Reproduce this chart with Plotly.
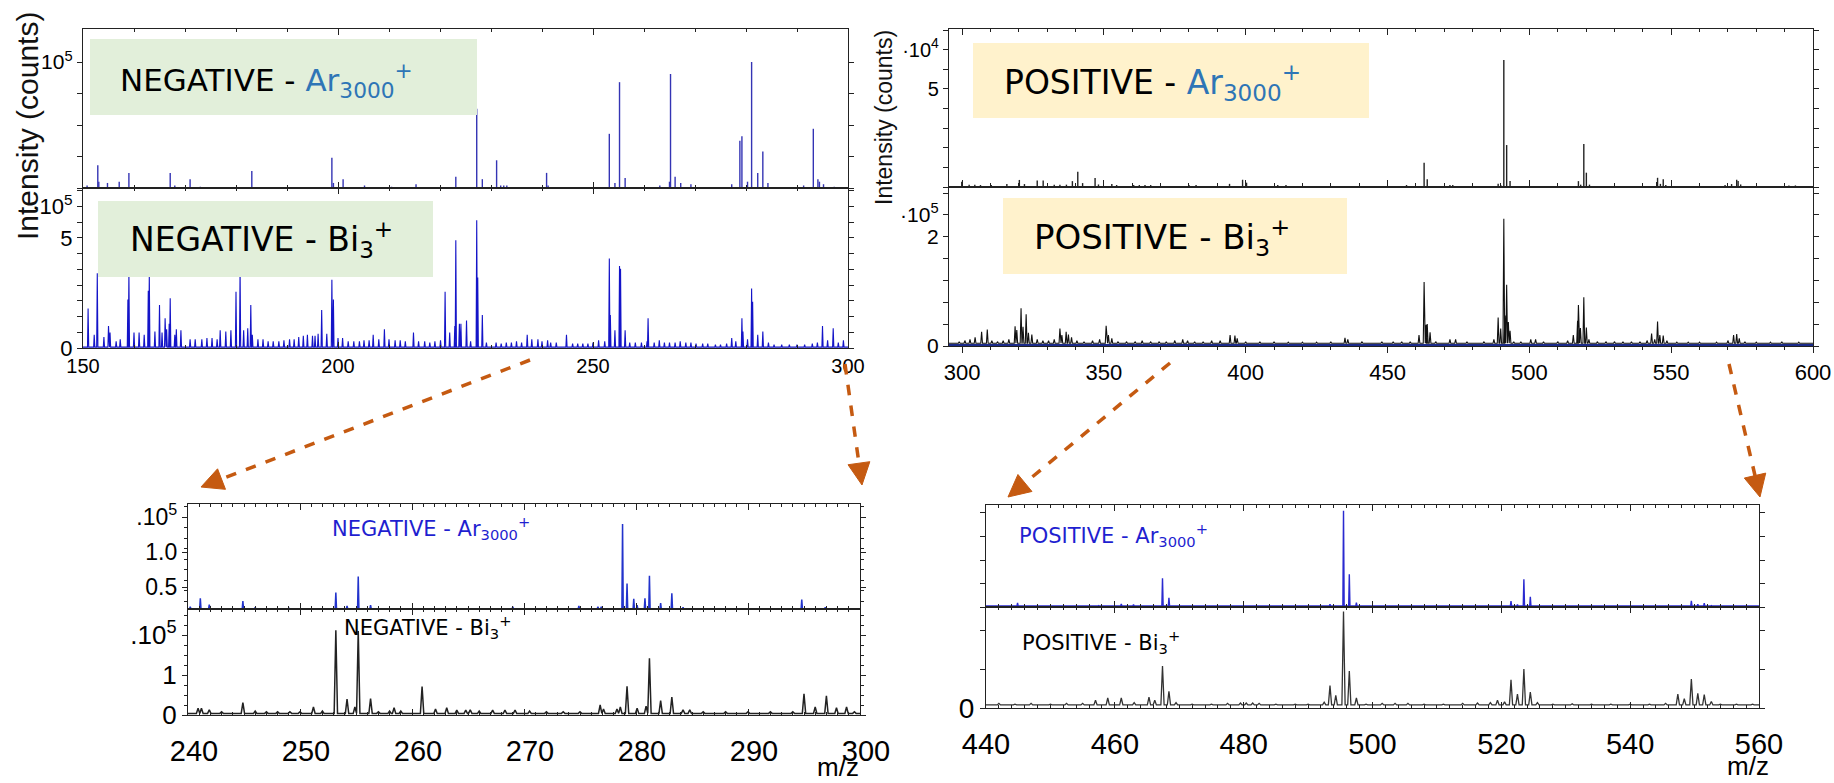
import plotly.graph_objects as go

W, H = 1834, 783

# ---------------- data: (m/z, intensity) ----------------
# top-left, NEGATIVE - Ar3000+  (x1e5 counts)
neg_ar_peaks = [(150.8, 0.02), (152.9, 0.18), (153.1, 0.05), (154.8, 0.04), (157.1, 0.05), (159.0, 0.12),
                (167.1, 0.12), (168.0, 0.02), (171.0, 0.07), (173.0, 0.01), (183.1, 0.135), (198.8, 0.24),
                (199.1, 0.04), (201.0, 0.07), (205.2, 0.02), (210.5, 0.01), (215.3, 0.03), (223.1, 0.09),
                (227.2, 0.63), (228.3, 0.07), (231.1, 0.22), (231.9, 0.02), (232.5, 0.02), (233.1, 0.02),
                (240.9, 0.12), (241.2, 0.02), (253.2, 0.43), (254.3, 0.04), (255.2, 0.84), (256.3, 0.08),
                (263.1, 0.02), (265.0, 0.05), (265.2, 0.905), (266.1, 0.09), (267.2, 0.04), (269.2, 0.03),
                (277.2, 0.03), (278.8, 0.375), (279.2, 0.41), (280.3, 0.05), (281.1, 1.0), (282.3, 0.12),
                (283.3, 0.29), (284.3, 0.04), (291.3, 0.02), (293.2, 0.47), (294.1, 0.07), (294.4, 0.05),
                (295.2, 0.03), (297.3, 0.01)]

# top-left, NEGATIVE - Bi3+  (axis units, label "5" at 5)
neg_bi_peaks = [(151.0, 1.8), (152.2, 0.6), (152.8, 3.4), (154.1, 0.5), (155.0, 1.0), (155.3, 0.7), (156.5, 0.3),
                (157.3, 0.4), (158.8, 2.2), (159.0, 3.4), (160.0, 0.7), (161.0, 0.7), (162.0, 0.6), (162.8, 2.6),
                (163.0, 3.3), (164.1, 0.75), (165.0, 1.95), (165.5, 0.7), (166.1, 1.35), (166.4, 0.85),
                (166.9, 1.1), (167.1, 2.26), (168.0, 0.6), (168.3, 0.85), (169.2, 0.8), (171.0, 0.4),
                (172.0, 0.4), (173.3, 0.4), (174.3, 0.45), (175.3, 0.45), (176.3, 0.4), (176.9, 0.8),
                (178.0, 0.75), (179.0, 0.8), (180.0, 2.56), (180.8, 3.6), (181.5, 0.8), (182.3, 0.9),
                (182.9, 1.95), (183.2, 0.6), (184.3, 0.4), (185.3, 0.4), (186.3, 0.3), (187.3, 0.3),
                (188.4, 0.3), (189.4, 0.35), (190.5, 0.4), (191.4, 0.4), (192.3, 0.5), (193.2, 0.55),
                (194.0, 0.6), (195.0, 0.55), (195.5, 0.55), (196.1, 0.65), (196.8, 1.73), (197.8, 0.65),
                (198.8, 3.1), (199.1, 2.2), (200.0, 0.45), (200.9, 0.45), (202.0, 0.3), (203.1, 0.3),
                (204.2, 0.3), (205.1, 0.35), (206.1, 0.35), (206.9, 0.6), (208.0, 0.4), (209.1, 0.85),
                (210.0, 0.4), (211.2, 0.35), (212.2, 0.35), (213.2, 0.3), (214.8, 0.7), (215.8, 0.3),
                (217.0, 0.3), (218.0, 0.25), (219.0, 0.3), (220.1, 0.35), (221.0, 2.56), (221.9, 0.7),
                (222.9, 1.0), (223.1, 4.9), (223.8, 1.1), (224.1, 1.1), (225.2, 1.25), (226.0, 0.3),
                (227.2, 5.8), (227.4, 3.2), (228.3, 1.5), (229.1, 0.25), (231.0, 0.25), (232.0, 0.2),
                (233.0, 0.25), (234.0, 0.25), (235.0, 0.3), (236.0, 0.25), (237.1, 0.6), (238.0, 0.4),
                (239.2, 0.4), (240.0, 0.3), (241.1, 0.35), (241.7, 0.25), (242.8, 0.25), (244.8, 0.6),
                (246.0, 0.2), (247.0, 0.2), (248.0, 0.2), (249.0, 0.2), (250.0, 0.25), (251.1, 0.35),
                (252.3, 0.3), (253.2, 4.07), (253.4, 1.5), (254.3, 0.8), (255.2, 3.73), (255.4, 3.6),
                (256.3, 0.8), (257.2, 0.25), (258.3, 0.25), (259.5, 0.25), (260.6, 0.3), (260.8, 1.35),
                (262.0, 0.25), (263.0, 0.35), (264.0, 0.25), (265.0, 0.25), (266.1, 0.25), (267.1, 0.3),
                (268.2, 0.25), (269.2, 0.25), (270.2, 0.2), (271.5, 0.2), (272.5, 0.2), (274.0, 0.15),
                (275.0, 0.15), (276.2, 0.2), (277.2, 0.45), (278.0, 0.3), (279.2, 1.35), (279.4, 0.75),
                (280.3, 0.4), (281.1, 2.7), (281.3, 2.1), (282.3, 0.6), (283.3, 0.75), (284.4, 0.25),
                (285.5, 0.15), (287.0, 0.15), (288.5, 0.15), (290.0, 0.15), (291.5, 0.15), (293.0, 0.2),
                (294.0, 0.25), (295.0, 1.0), (296.0, 0.35), (297.1, 0.9), (298.1, 0.25), (299.1, 0.35)]
neg_bi_base = 0.04

# top-right, POSITIVE - Ar3000+  (x1e4 counts)
pos_ar_peaks = [(299.9, 0.27), (302.5, 0.12), (304.5, 0.12), (306.5, 0.1), (310.3, 0.1), (315.8, 0.15),
                (320.2, 0.36), (322.0, 0.15), (326.5, 0.33), (328.6, 0.33), (332.5, 0.12), (334.5, 0.12),
                (336.8, 0.12), (338.9, 0.3), (340.8, 0.78), (342.5, 0.2), (346.9, 0.46), (348.1, 0.13),
                (352.8, 0.15), (354.5, 0.1), (360.5, 0.1), (362.5, 0.1), (364.5, 0.1), (366.5, 0.1),
                (380.0, 0.1), (382.5, 0.1), (394.3, 0.16), (398.9, 0.37), (400.3, 0.22), (411.3, 0.1),
                (414.2, 0.1), (456.7, 0.1), (462.9, 1.24), (464.0, 0.39), (472.0, 0.1), (473.0, 0.1),
                (489.0, 0.16), (489.9, 0.1), (491.0, 6.48), (492.0, 2.14), (493.2, 0.3), (517.3, 0.3),
                (518.1, 0.12), (519.2, 2.19), (520.1, 0.73), (521.2, 0.12), (544.9, 0.25), (545.2, 0.47),
                (546.2, 0.16), (547.2, 0.39), (548.1, 0.1), (569.0, 0.1), (571.3, 0.15), (573.1, 0.37),
                (573.6, 0.3), (574.5, 0.13), (591.5, 0.08), (593.8, 0.08)]

# top-right, POSITIVE - Bi3+  (x1e5 counts)
pos_bi_peaks = [(299.0, 0.08), (301.0, 0.1), (302.8, 0.12), (304.6, 0.16), (306.9, 0.26), (308.9, 0.3),
                (310.5, 0.1), (312.5, 0.08), (314.5, 0.1), (316.5, 0.12), (318.7, 0.36), (319.3, 0.29),
                (320.8, 0.69), (321.5, 0.35), (322.6, 0.58), (323.4, 0.24), (324.6, 0.21), (326.5, 0.12),
                (328.5, 0.1), (330.5, 0.1), (332.5, 0.12), (334.5, 0.32), (335.2, 0.2), (336.7, 0.26),
                (337.5, 0.21), (338.6, 0.16), (340.5, 0.1), (343.0, 0.08), (346.0, 0.1), (348.5, 0.12),
                (350.8, 0.37), (351.6, 0.2), (352.8, 0.14), (355.0, 0.08), (358.0, 0.08), (361.0, 0.08),
                (363.5, 0.1), (366.5, 0.08), (369.5, 0.08), (372.0, 0.08), (375.0, 0.1), (377.8, 0.12),
                (379.5, 0.1), (382.0, 0.08), (385.0, 0.08), (388.0, 0.1), (391.0, 0.1), (394.5, 0.2),
                (396.2, 0.19), (397.0, 0.14), (400.0, 0.08), (405.0, 0.08), (410.0, 0.08), (415.0, 0.07),
                (420.0, 0.07), (425.0, 0.07), (430.0, 0.08), (435.0, 0.15), (436.0, 0.12), (441.0, 0.08),
                (448.0, 0.08), (452.0, 0.08), (455.0, 0.08), (458.0, 0.08), (461.1, 0.2), (462.9, 1.17),
                (463.6, 0.39), (464.0, 0.4), (465.0, 0.25), (467.0, 0.08), (472.0, 0.12), (474.0, 0.12),
                (478.0, 0.08), (484.0, 0.08), (487.5, 0.12), (489.0, 0.52), (489.9, 0.32), (491.0, 2.33),
                (491.4, 0.56), (492.0, 1.12), (492.6, 0.44), (493.2, 0.28), (494.5, 0.08), (497.0, 0.08),
                (500.5, 0.12), (502.2, 0.12), (505.0, 0.08), (510.0, 0.08), (513.5, 0.1), (515.5, 0.2),
                (517.0, 0.46), (517.3, 0.75), (518.0, 0.33), (519.2, 0.89), (520.1, 0.34), (521.0, 0.12),
                (524.0, 0.08), (527.0, 0.08), (530.0, 0.08), (533.0, 0.08), (536.0, 0.08), (539.0, 0.08),
                (541.5, 0.1), (543.1, 0.23), (544.2, 0.12), (545.2, 0.45), (546.0, 0.2), (547.2, 0.19),
                (548.5, 0.1), (552.0, 0.07), (556.0, 0.07), (560.0, 0.07), (566.0, 0.07), (570.0, 0.1),
                (572.0, 0.2), (573.1, 0.22), (574.0, 0.14), (576.0, 0.08), (580.0, 0.07), (585.0, 0.07),
                (589.0, 0.08), (595.0, 0.07)]
pos_bi_base = 0.05
pos_bi_overlay_level = 0.02

# bottom-left zoom, NEGATIVE - Ar3000+ (offset baseline)
neg_ar_zoom_peaks = [(240.2, 0.22), (241.1, 0.34), (241.9, 0.25), (244.9, 0.30), (246.0, 0.21), (249.0, 0.2),
                     (253.2, 0.42), (254.2, 0.23), (255.2, 0.65), (256.3, 0.24), (260.0, 0.2), (263.0, 0.2),
                     (269.0, 0.22), (274.9, 0.23), (276.6, 0.22), (276.9, 0.22), (278.8, 1.40), (279.2, 0.55),
                     (279.8, 0.33), (280.1, 0.24), (280.8, 0.34), (281.2, 0.66), (282.2, 0.27), (283.2, 0.41),
                     (284.2, 0.21), (294.8, 0.32), (296.9, 0.21)]
neg_ar_zoom_base = 0.19

# bottom-left zoom, NEGATIVE - Bi3+
neg_bi_zoom_peaks = [(240.9, 0.17), (241.2, 0.17), (241.9, 0.13), (243.0, 0.08), (244.9, 0.31), (246.0, 0.1),
                     (247.0, 0.08), (248.0, 0.08), (249.1, 0.08), (250.0, 0.08), (251.2, 0.2), (252.0, 0.1),
                     (253.2, 2.12), (254.2, 0.4), (254.9, 0.2), (255.2, 2.1), (256.3, 0.41), (257.0, 0.08),
                     (258.0, 0.1), (258.4, 0.18), (259.0, 0.1), (260.9, 0.71), (262.1, 0.15), (263.1, 0.18),
                     (264.0, 0.12), (264.8, 0.12), (265.2, 0.13), (266.0, 0.1), (267.2, 0.12), (268.3, 0.12),
                     (269.2, 0.12), (270.5, 0.1), (272.0, 0.08), (273.5, 0.08), (275.0, 0.08), (276.8, 0.25),
                     (277.1, 0.15), (278.3, 0.15), (278.6, 0.2), (279.2, 0.72), (280.1, 0.17), (280.9, 0.22),
                     (281.2, 1.42), (282.2, 0.36), (283.2, 0.45), (284.2, 0.13), (284.8, 0.13), (286.0, 0.08),
                     (288.0, 0.08), (290.0, 0.08), (292.0, 0.08), (294.0, 0.08), (295.0, 0.53), (296.0, 0.2),
                     (297.0, 0.48), (297.9, 0.18), (298.8, 0.2), (299.5, 0.08)]
neg_bi_zoom_base = 0.04

# bottom-right zoom, POSITIVE - Ar3000+
pos_ar_zoom_peaks = [(444.9, 0.17), (446.0, 0.05), (457.5, 0.06), (461.0, 0.13), (462.9, 0.1), (467.4, 1.22),
                     (468.4, 0.39), (469.5, 0.06), (478.5, 0.06), (479.3, 0.06), (493.4, 0.12), (495.5, 4.1),
                     (496.4, 1.39), (497.5, 0.19), (503.0, 0.06), (520.6, 0.06), (521.5, 0.25), (522.5, 0.1),
                     (523.5, 1.18), (524.5, 0.43), (525.5, 0.06), (531.0, 0.06), (543.0, 0.06), (549.5, 0.26),
                     (550.5, 0.12), (551.5, 0.16), (552.6, 0.06)]
pos_ar_zoom_base = 0.04

# bottom-right zoom, POSITIVE - Bi3+
pos_bi_zoom_peaks = [(442.0, 0.12), (444.5, 0.1), (447.0, 0.12), (450.0, 0.1), (452.5, 0.12), (455.0, 0.12),
                     (457.0, 0.2), (458.9, 0.26), (461.0, 0.26), (463.0, 0.14), (465.3, 0.28), (466.2, 0.2),
                     (467.4, 1.09), (468.4, 0.43), (469.5, 0.14), (472.0, 0.1), (475.0, 0.1), (477.5, 0.12),
                     (479.5, 0.13), (480.4, 0.13), (481.4, 0.13), (482.4, 0.12), (485.0, 0.1), (488.0, 0.1),
                     (490.0, 0.1), (492.5, 0.15), (493.4, 0.58), (494.3, 0.33), (495.5, 2.5), (496.4, 0.96),
                     (497.5, 0.26), (499.0, 0.1), (501.5, 0.12), (503.5, 0.12), (505.5, 0.12), (508.0, 0.1),
                     (511.0, 0.1), (514.0, 0.12), (516.3, 0.13), (518.3, 0.14), (519.4, 0.2), (520.5, 0.16),
                     (521.5, 0.73), (522.5, 0.36), (523.5, 1.01), (524.5, 0.41), (525.6, 0.14), (528.0, 0.1),
                     (531.0, 0.11), (534.0, 0.1), (537.0, 0.1), (540.0, 0.1), (543.0, 0.1), (545.5, 0.12),
                     (547.4, 0.36), (548.4, 0.24), (549.5, 0.75), (550.5, 0.38), (551.5, 0.35), (552.6, 0.17),
                     (554.0, 0.1), (556.5, 0.1), (559.0, 0.1)]
pos_bi_zoom_base = 0.08

# axis ranges
tl_range = [150, 300]
tr_range = [295.4, 600]
bl_range = [240, 300]
br_range = [440, 560]

# ---------------- helpers ----------------
def sticks(peaks, base):
    xs, ys = [], []
    for m, h in sorted(peaks):
        xs += [m, m, None]
        ys += [base, h, None]
    return xs, ys


def profile(peaks, base, w, rng):
    xs, ys = [rng[0]], [base]
    for m, h in sorted(peaks):
        xs += [m - w, m, m + w]
        ys += [base, h, base]
    xs.append(rng[1])
    ys.append(base)
    return xs, ys


def xd(a, b):
    return [a / W, b / W]


def yd(top, bottom):
    return [1 - bottom / H, 1 - top / H]


TICKFONT = "Liberation Sans, Arial, sans-serif"
LABELFONT = "DejaVu Sans, sans-serif"

fig = go.Figure()


def add(xs, ys, ax, color, width):
    fig.add_trace(go.Scatter(x=xs, y=ys, mode="lines", xaxis="x" + ax, yaxis="y" + ax,
                             line=dict(color=color, width=width), hoverinfo="skip", showlegend=False))


x, y = sticks(neg_ar_peaks, 0)
add(x, y, "", "#3434b4", 1.4)
x, y = profile(neg_bi_peaks, neg_bi_base, 0.12, tl_range)
add(x, y, "2", "#1414c8", 1.1)
x, y = sticks(pos_ar_peaks, 0)
add(x, y, "3", "#222222", 1.4)
add(list(tr_range), [pos_bi_overlay_level] * 2, "4", "#1a2a8a", 2)
x, y = profile(pos_bi_peaks, pos_bi_base, 0.3, tr_range)
add(x, y, "4", "#111111", 1.1)
x, y = profile(neg_ar_zoom_peaks, neg_ar_zoom_base, 0.06, bl_range)
add(x, y, "5", "#2233cc", 1.5)
x, y = profile(neg_bi_zoom_peaks, neg_bi_zoom_base, 0.15, bl_range)
add(x, y, "6", "#222222", 1.5)
x, y = profile(pos_ar_zoom_peaks, pos_ar_zoom_base, 0.1, br_range)
add(x, y, "7", "#2a2ad0", 1.4)
x, y = profile(pos_bi_zoom_peaks, pos_bi_zoom_base, 0.25, br_range)
add(x, y, "8", "#333333", 1.3)

BASE = dict(showline=True, linecolor="#222", linewidth=1.3, mirror="ticks", showgrid=False, zeroline=False,
            tickcolor="#222", tickwidth=1.1, fixedrange=True, automargin=False)


def xaxis(dom, rng, anchor, dtick, minor, labels, size, tick0=None, standoff=None, shift=None, ticks="inside"):
    d = dict(BASE, domain=dom, range=rng, anchor=anchor, dtick=dtick, ticks=ticks, ticklen=6,
             showticklabels=labels, tickfont=dict(family=TICKFONT, size=size, color="#000"),
             minor=dict(dtick=minor, ticks=ticks, ticklen=3, tickcolor="#222"))
    if tick0 is not None:
        d["tick0"] = tick0
    if standoff is not None:
        d["ticklabelstandoff"] = standoff
    if shift is not None:
        d["ticklabelshift"] = shift
    return d


def yaxis(dom, rng, anchor, vals, text, size, minor=None):
    d = dict(BASE, domain=dom, range=rng, anchor=anchor, tickmode="array", tickvals=vals, ticktext=text,
             ticks="outside", ticklen=5, tickfont=dict(family=TICKFONT, size=size, color="#000"))
    if minor:
        d["minor"] = dict(dtick=minor, tick0=0, ticks="outside", ticklen=3, tickcolor="#222")
    return d


tl_low_vals = [k * 5 / 7 for k in range(11)]
tl_low_text = ["" for _ in range(11)]
tl_low_text[0], tl_low_text[7], tl_low_text[9] = "0", "5", "·10<sup>5</sup>"
tr_up_text = ["" for _ in range(9)]
tr_up_text[5], tr_up_text[7] = "5", "·10<sup>4</sup>"
tr_low_vals = [k * 0.4 for k in range(8)]
tr_low_text = ["" for _ in range(8)]
tr_low_text[0], tr_low_text[5], tr_low_text[6] = "0", "2", "·10<sup>5</sup>"

fig.update_layout(
    width=W, height=H, margin=dict(l=0, r=0, t=0, b=0, autoexpand=False), paper_bgcolor="white",
    plot_bgcolor="white", showlegend=False,
    xaxis=xaxis(xd(83, 848), tl_range, "y", 50, 10, False, 20),
    xaxis2=xaxis(xd(83, 848), tl_range, "y2", 50, 10, True, 20),
    xaxis3=xaxis(xd(949, 1813), tr_range, "y3", 50, 10, False, 22, tick0=300),
    xaxis4=xaxis(xd(949, 1813), tr_range, "y4", 50, 10, True, 22, tick0=300, ticks="outside"),
    xaxis5=xaxis(xd(188, 860), bl_range, "y5", 10, 1, False, 29),
    xaxis6=xaxis(xd(188, 860), bl_range, "y6", 10, 1, True, 29, standoff=10, shift=6),
    xaxis7=xaxis(xd(986, 1759), br_range, "y7", 20, 2, False, 29),
    xaxis8=xaxis(xd(986, 1759), br_range, "y8", 20, 2, True, 29, standoff=10),
    yaxis=yaxis(yd(29, 188), [0, 1.262], "x", [0, 0.25, 0.5, 0.75, 1.0], ["", "", "", "", "·10<sup>5</sup>"], 21),
    yaxis2=yaxis(yd(188, 348), [0, 7.27], "x2", tl_low_vals, tl_low_text, 22),
    yaxis3=yaxis(yd(29, 187), [0, 8.06], "x3", list(range(9)), tr_up_text, 20),
    yaxis4=yaxis(yd(187, 346), [0, 2.91], "x4", tr_low_vals, tr_low_text, 21),
    yaxis5=yaxis(yd(504, 609), [0.186, 1.686], "x5", [0.5, 1.0, 1.5], ["0.5", "1.0", ".10<sup>5</sup>"], 23, 0.15),
    yaxis6=yaxis(yd(609, 715), [0, 2.65], "x6", [0, 1, 2], ["0", "1", ".10<sup>5</sup>"], 26, 0.25),
    yaxis7=yaxis(yd(505, 607), [0, 4.34], "x7", [0, 1, 2, 3, 4], ["", "", "", "", ""], 20),
    yaxis8=yaxis(yd(607, 708), [0, 2.62], "x8", [0, 1, 2], ["0", "", ""], 28),
)

# ---------------- label boxes ----------------
GREEN, ORANGE = "#e2efda", "#fff2cc"
boxes = [((90, 39), (477, 115), GREEN), ((98, 201), (433, 277), GREEN),
         ((973, 43), (1369, 118), ORANGE), ((1003, 198), (1347, 274), ORANGE)]
shapes = []
for (x0, y0), (x1, y1), c in boxes:
    shapes.append(dict(type="rect", xref="paper", yref="paper", x0=x0 / W, x1=x1 / W, y0=1 - y1 / H,
                       y1=1 - y0 / H, fillcolor=c, line=dict(width=0), layer="above"))

# ---------------- dashed arrows ----------------
ARROW = "#c55a11"
arrows = [((530, 360), (201, 487)), ((845, 364), (862, 485)), ((1170, 363), (1008, 497)),
          ((1729, 364), (1760, 497))]
for (sx, sy), (tx, ty) in arrows:
    dx, dy = tx - sx, ty - sy
    L = (dx * dx + dy * dy) ** 0.5
    ux, uy = dx / L, dy / L
    hl, hw = 22, 11
    bx, by = tx - ux * hl, ty - uy * hl
    nx, ny = -uy, ux
    shapes.append(dict(type="line", xref="paper", yref="paper", x0=sx / W, y0=1 - sy / H,
                       x1=(bx + ux * 2) / W, y1=1 - (by + uy * 2) / H,
                       line=dict(color=ARROW, width=3.5, dash="dash")))
    pts = [(tx, ty), (bx + nx * hw, by + ny * hw), (bx - nx * hw, by - ny * hw)]
    path = "M " + " L ".join(f"{p[0] / W:.5f},{1 - p[1] / H:.5f}" for p in pts) + " Z"
    shapes.append(dict(type="path", xref="paper", yref="paper", path=path, fillcolor=ARROW,
                       line=dict(color=ARROW, width=1)))
fig.update_layout(shapes=shapes)

# ---------------- text ----------------
AR_BIG = "<span style='color:#2e75b6'>Ar<sub>3000</sub><sup>+</sup></span>"
notes = [
    (118, 80, "NEGATIVE - " + AR_BIG, 31, "#000"),
    (128, 240, "NEGATIVE - Bi<sub>3</sub><sup>+</sup>", 33, "#000"),
    (1002, 82, "POSITIVE - " + AR_BIG, 33, "#000"),
    (1032, 237, "POSITIVE - Bi<sub>3</sub><sup>+</sup>", 34, "#000"),
    (330, 528, "NEGATIVE - Ar<sub>3000</sub><sup>+</sup>", 21, "#1f1fd0"),
    (342, 627, "NEGATIVE - Bi<sub>3</sub><sup>+</sup>", 21, "#000"),
    (1017, 535, "POSITIVE - Ar<sub>3000</sub><sup>+</sup>", 21, "#1f1fd0"),
    (1020, 642, "POSITIVE - Bi<sub>3</sub><sup>+</sup>", 21, "#000"),
]
ann = []
for px, py, t, s, c in notes:
    ann.append(dict(xref="paper", yref="paper", x=px / W, y=1 - py / H, xanchor="left", yanchor="middle",
                    text=t, showarrow=False, font=dict(family=LABELFONT, size=s, color=c)))
for px, py, s in [(27, 126, 30), (884, 118, 23)]:
    ann.append(dict(xref="paper", yref="paper", x=px / W, y=1 - py / H, xanchor="center", yanchor="middle",
                    text="Intensity (counts)", textangle=-90, showarrow=False,
                    font=dict(family=TICKFONT, size=s, color="#111")))
for px, py in [(838, 767), (1748, 766)]:
    ann.append(dict(xref="paper", yref="paper", x=px / W, y=1 - py / H, xanchor="center", yanchor="middle",
                    text="m/z", showarrow=False, font=dict(family=TICKFONT, size=26, color="#000")))
fig.update_layout(annotations=ann)

fig.write_html("out.html")
